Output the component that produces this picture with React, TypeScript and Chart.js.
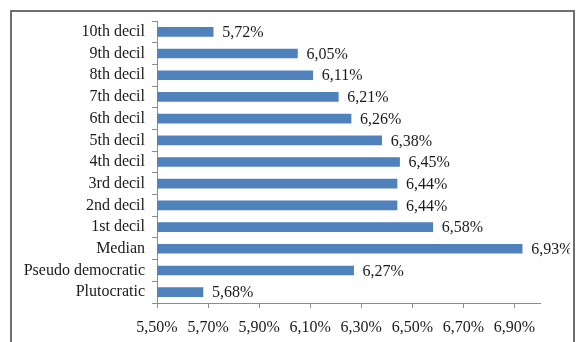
import React, { useEffect, useRef } from "react";
import { Chart, registerables } from "chart.js";

Chart.register(...registerables);

const categories = [
  "10th decil",
  "9th decil",
  "8th decil",
  "7th decil",
  "6th decil",
  "5th decil",
  "4th decil",
  "3rd decil",
  "2nd decil",
  "1st decil",
  "Median",
  "Pseudo democratic",
  "Plutocratic",
];
const values = [5.72, 6.05, 6.11, 6.21, 6.26, 6.38, 6.45, 6.44, 6.44, 6.58, 6.93, 6.27, 5.68];
const xTicks = [5.5, 5.7, 5.9, 6.1, 6.3, 6.5, 6.7, 6.9];
const xMin = 5.5;
const xMax = 7.0;

const FONT = "'Liberation Serif', 'Times New Roman', serif";
const fmt = (v: number) => v.toFixed(2).replace(".", ",") + "%";

const labelPlugin = {
  id: "valueLabels",
  afterDatasetsDraw(chart: any) {
    const ctx = chart.ctx;
    const meta = chart.getDatasetMeta(0);
    ctx.save();
    ctx.font = `16px ${FONT}`;
    ctx.fillStyle = "#1a1a1a";
    ctx.textAlign = "left";
    ctx.textBaseline = "middle";
    meta.data.forEach((bar: any, i: number) => {
      ctx.fillText(fmt(values[i]), bar.x + 9, bar.y + 1);
    });
    ctx.restore();
  },
};

export default function App() {
  const ref = useRef<HTMLCanvasElement>(null);
  useEffect(() => {
    if (!ref.current) return;
    const chart = new Chart(ref.current, {
      type: "bar",
      data: {
        labels: categories,
        datasets: [
          {
            data: values,
            base: xMin,
            backgroundColor: "#4F81BD",
            borderWidth: 0,
            barThickness: 9,
          } as any,
        ],
      },
      options: {
        indexAxis: "y",
        animation: false,
        responsive: false,
        maintainAspectRatio: false,
        layout: { padding: { top: 9, right: 30, bottom: 0, left: 0 } },
        plugins: { legend: { display: false }, tooltip: { enabled: false } },
        scales: {
          x: {
            type: "linear",
            min: xMin,
            max: xMax,
            afterBuildTicks: (scale: any) => {
              scale.ticks = xTicks.map((v) => ({ value: v }));
            },
            afterFit: (scale: any) => {
              scale.height = 39;
              scale.paddingLeft = 0;
              scale.paddingRight = 0;
            },
            ticks: {
              font: { family: FONT, size: 16 },
              color: "#1a1a1a",
              padding: 10,
              maxRotation: 0,
              autoSkip: false,
              callback: (v: any) => fmt(Number(v)),
            },
            grid: {
              drawOnChartArea: false,
              drawTicks: true,
              tickLength: 5,
              color: "#8c8c8c",
            },
            border: { display: true, color: "#8c8c8c", width: 1 },
          },
          y: {
            afterFit: (scale: any) => {
              scale.width = 145;
              scale.paddingTop = 0;
              scale.paddingBottom = 0;
            },
            ticks: {
              font: { family: FONT, size: 16 },
              color: "#1a1a1a",
              padding: 7,
              autoSkip: false,
            },
            grid: {
              offset: true,
              drawOnChartArea: false,
              drawTicks: true,
              tickLength: 5,
              color: "#8c8c8c",
            },
            border: { display: true, color: "#8c8c8c", width: 1 },
          },
        },
      },
      plugins: [labelPlugin],
    });
    return () => chart.destroy();
  }, []);

  return (
    <div
      style={{
        position: "absolute",
        left: 10,
        top: 10,
        width: 565,
        height: 350,
        border: "2px solid #6e6e6e",
        boxSizing: "border-box",
        background: "#fff",
      }}
    >
      <canvas
        ref={ref}
        width={558}
        height={330}
        style={{ position: "absolute", left: 0, top: 0, width: 558, height: 330 }}
      />
    </div>
  );
}
